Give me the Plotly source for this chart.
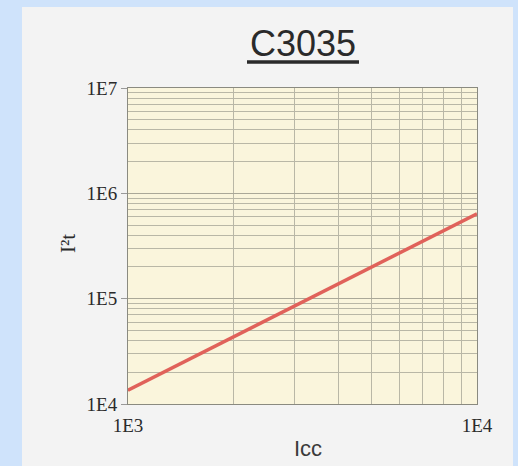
import plotly.graph_objects as go

# Data
icc = [1000, 10000]
i2t = [1.35e4, 6.4e5]
x_tick_vals = [1e3, 1e4]
x_tick_text = ["1E3", "1E4"]
y_tick_vals = [1e4, 1e5, 1e6, 1e7]
y_tick_text = ["1E4", "1E5", "1E6", "1E7"]
title_text = "C3035"
x_title = "Icc"
y_title = "I²t"

W, H = 518, 466
L, R, T, B = 128, 41, 88, 62
pw, ph = W - L - R, H - T - B

def px(x):
    return (x - L) / pw

def py(y):
    return 1 - (y - T) / ph

fig = go.Figure()
fig.add_trace(go.Scatter(x=icc, y=i2t, mode="lines",
                         line=dict(color="#e0625a", width=3.5),
                         showlegend=False, hoverinfo="skip"))

grid = "#b9b7a6"
tick_font = dict(family="Liberation Serif, Times New Roman, serif", size=19, color="#2a2a2a")

fig.update_xaxes(type="log", range=[3, 4], tickvals=x_tick_vals, ticktext=x_tick_text,
                 showgrid=False, zeroline=False, showline=True, linecolor="#8a8a80", linewidth=1,
                 mirror=True, tickfont=tick_font, ticks="", ticklen=0, ticklabelstandoff=4,
                 minor=dict(dtick="D1", showgrid=True, gridcolor=grid, gridwidth=1))
fig.update_yaxes(type="log", range=[4, 7], tickvals=y_tick_vals, ticktext=y_tick_text,
                 showgrid=True, gridcolor="#aaa898", zeroline=False, showline=True, linecolor="#8a8a80",
                 linewidth=1, mirror=True, tickfont=tick_font, ticks="outside", ticklen=6,
                 tickcolor="#999999",
                 minor=dict(dtick="D1", showgrid=True, gridcolor=grid, gridwidth=1))

shapes = [
    dict(type="rect", xref="paper", yref="paper", x0=px(22), x1=px(513), y0=py(470), y1=py(7),
         fillcolor="#f3f3f3", line=dict(width=0), layer="below"),
    dict(type="rect", xref="paper", yref="paper", x0=0, x1=1, y0=0, y1=1,
         fillcolor="#faf5dc", line=dict(width=0), layer="below"),
    dict(type="line", xref="paper", yref="paper", x0=px(247), x1=px(359), y0=py(62), y1=py(62),
         line=dict(color="#2a2a2a", width=3.5)),
]

annotations = [
    dict(text=title_text, xref="paper", yref="paper", x=px(303), y=py(44), showarrow=False,
         font=dict(family="Liberation Sans, Arial, sans-serif", size=36, color="#2a2a2a"),
         xanchor="center", yanchor="middle"),
    dict(text=x_title, xref="paper", yref="paper", x=px(308), y=py(448), showarrow=False,
         font=dict(family="Liberation Sans, Arial, sans-serif", size=22, color="#3a3a3a"),
         xanchor="center", yanchor="middle"),
    dict(text=y_title, xref="paper", yref="paper", x=px(68), y=py(244), showarrow=False,
         textangle=-90,
         font=dict(family="Liberation Serif, Times New Roman, serif", size=21, color="#2a2a2a"),
         xanchor="center", yanchor="middle"),
]

fig.update_layout(width=W, height=H, margin=dict(l=L, r=R, t=T, b=B),
                  paper_bgcolor="#cfe3fb", plot_bgcolor="rgba(0,0,0,0)",
                  shapes=shapes, annotations=annotations)

fig.write_html("out.html")
